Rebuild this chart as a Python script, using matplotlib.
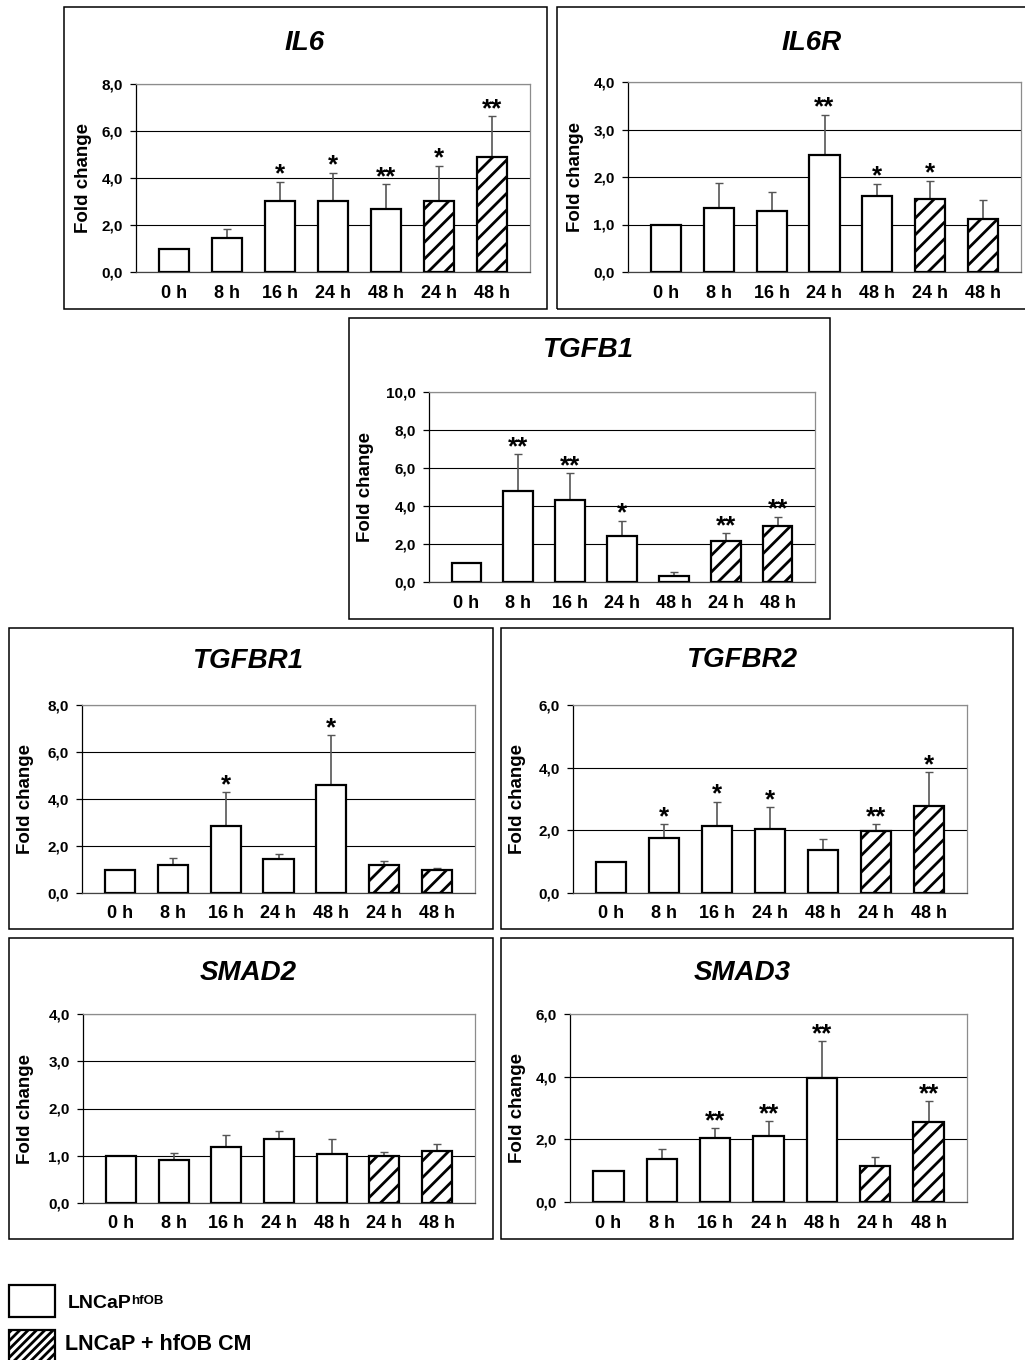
import matplotlib
matplotlib.use('Agg')
import matplotlib.pyplot as plt
from matplotlib.patches import Rectangle
import numpy as np

plt.rcParams['font.family'] = ['Liberation Sans', 'DejaVu Sans']
plt.rcParams['font.weight'] = 'bold'
plt.rcParams['hatch.linewidth'] = 2.0

# ---------------- data ----------------
categories = ['0 h', '8 h', '16 h', '24 h', '48 h', '24 h', '48 h']
hatched = [False, False, False, False, False, True, True]

il6_mean = [1.0, 1.43, 3.04, 3.04, 2.68, 3.04, 4.90]
il6_err = [0.0, 0.42, 0.81, 1.19, 1.06, 1.49, 1.72]
il6_sig = ['', '', '*', '*', '**', '*', '**']

il6r_mean = [1.0, 1.35, 1.28, 2.46, 1.59, 1.54, 1.11]
il6r_err = [0.0, 0.53, 0.41, 0.85, 0.27, 0.38, 0.41]
il6r_sig = ['', '', '', '**', '*', '*', '']

tgfb1_mean = [1.0, 4.81, 4.33, 2.40, 0.33, 2.14, 2.95]
tgfb1_err = [0.0, 1.93, 1.39, 0.83, 0.18, 0.44, 0.49]
tgfb1_sig = ['', '**', '**', '*', '', '**', '**']

tgfbr1_mean = [1.0, 1.21, 2.85, 1.44, 4.60, 1.18, 1.0]
tgfbr1_err = [0.0, 0.26, 1.43, 0.23, 2.12, 0.19, 0.08]
tgfbr1_sig = ['', '', '*', '', '*', '', '']

tgfbr2_mean = [1.0, 1.76, 2.14, 2.03, 1.36, 1.99, 2.79]
tgfbr2_err = [0.0, 0.43, 0.78, 0.70, 0.35, 0.20, 1.06]
tgfbr2_sig = ['', '*', '*', '*', '', '**', '*']

smad2_mean = [1.0, 0.92, 1.19, 1.36, 1.03, 1.00, 1.10]
smad2_err = [0.0, 0.14, 0.25, 0.17, 0.32, 0.07, 0.15]
smad2_sig = ['', '', '', '', '', '', '']

smad3_mean = [1.0, 1.37, 2.04, 2.11, 3.95, 1.15, 2.54]
smad3_err = [0.0, 0.31, 0.32, 0.46, 1.18, 0.29, 0.67]
smad3_sig = ['', '', '**', '**', '**', '', '**']

y_max = {'IL6': 8, 'IL6R': 4, 'TGFB1': 10, 'TGFBR1': 8, 'TGFBR2': 6, 'SMAD2': 4, 'SMAD3': 6}
y_step = {'IL6': 2, 'IL6R': 1, 'TGFB1': 2, 'TGFBR1': 2, 'TGFBR2': 2, 'SMAD2': 1, 'SMAD3': 2}

legend_labels = ['LNCaP', 'hfOB', 'LNCaP + hfOB CM']
ylabel_text = 'Fold change'

# ---------------- layout (pixels) ----------------
W, H = 1025, 1360
DPI = 100
fig = plt.figure(figsize=(W / DPI, H / DPI), dpi=DPI)
fig.patch.set_facecolor('white')


def fx(x):
    return x / W


def fy(y):
    return 1 - y / H


panels = [
    # name, mean, err, sig, frame(l,t,r,b), axes(l,t,r,b), title(x,y), ylabel x
    ('IL6', il6_mean, il6_err, il6_sig, (64, 7, 547, 309), (136, 84, 530, 272), (305, 43), 83),
    ('IL6R', il6r_mean, il6r_err, il6r_sig, (557, 7, 1040, 309), (628, 82, 1021, 272), (812, 43), 575),
    ('TGFB1', tgfb1_mean, tgfb1_err, tgfb1_sig, (349, 318, 830, 619), (429, 392, 815, 582), (588, 350), 366),
    ('TGFBR1', tgfbr1_mean, tgfbr1_err, tgfbr1_sig, (9, 628, 493, 929), (82, 705, 475, 893), (248, 661), 26),
    ('TGFBR2', tgfbr2_mean, tgfbr2_err, tgfbr2_sig, (501, 628, 1013, 929), (573, 705, 967, 893), (742, 660), 518),
    ('SMAD2', smad2_mean, smad2_err, smad2_sig, (9, 938, 493, 1239), (83, 1014, 475, 1203), (248, 973), 26),
    ('SMAD3', smad3_mean, smad3_err, smad3_sig, (501, 938, 1013, 1239), (570, 1014, 967, 1202), (742, 973), 518),
]

for name, mean, err, sig, frame, abox, tpos, ylx in panels:
    # outer frame
    fl, ft, fr, fb = frame
    fig.patches.append(Rectangle((fx(fl), fy(fb)), fx(fr - fl), (fb - ft) / H,
                                 transform=fig.transFigure, fill=False,
                                 edgecolor='black', linewidth=1.1, zorder=0))
    l, t, r, b = abox
    ax = fig.add_axes([fx(l), fy(b), (r - l) / W, (b - t) / H])
    x = np.arange(len(categories))
    ymax = y_max[name]
    step = y_step[name]
    yerr = [np.zeros(len(err)), np.array(err)]
    for i in range(len(categories)):
        ax.bar(x[i], mean[i], width=0.57, color='white', edgecolor='black',
               linewidth=1.6, hatch='//' if hatched[i] else None, zorder=3)
    ax.errorbar(x, mean, yerr=yerr, fmt='none', ecolor='#555555', elinewidth=1.2,
                capsize=3.2, capthick=1.0, zorder=2)
    for i, s in enumerate(sig):
        if s:
            ax.annotate(s, xy=(x[i], mean[i] + err[i]), xytext=(0, 0.0),
                        textcoords='offset points', ha='center', va='baseline',
                        fontsize=18.5, fontweight='bold')
    ax.set_xlim(-0.72, len(categories) - 1 + 0.72)
    ax.set_ylim(0, ymax)
    ticks = np.arange(0, ymax + step / 2, step)
    ax.set_yticks(ticks)
    ax.set_yticklabels([('%.1f' % v).replace('.', ',') for v in ticks],
                       fontsize=11, fontweight='bold')
    ax.set_xticks(x)
    ax.set_xticklabels(categories, fontsize=13, fontweight='bold')
    ax.tick_params(axis='x', length=0, pad=9)
    ax.tick_params(axis='y', length=4.5, width=0.9, pad=5, direction='out')
    ax.yaxis.grid(True, color='black', linewidth=0.8)
    ax.set_axisbelow(True)
    ax.spines['left'].set_color('black')
    ax.spines['left'].set_linewidth(0.9)
    ax.spines['bottom'].set_color('#444444')
    ax.spines['bottom'].set_linewidth(0.9)
    ax.spines['top'].set_color('#8c8c8c')
    ax.spines['right'].set_color('#8c8c8c')
    ax.spines['top'].set_linewidth(0.9)
    ax.spines['right'].set_linewidth(0.9)
    fig.text(fx(tpos[0]), fy(tpos[1]), name, ha='center', va='center',
             fontsize=20, fontweight='bold', style='italic')
    fig.text(fx(ylx), fy((t + b) / 2), ylabel_text, rotation=90, ha='center',
             va='center', fontsize=13.5, fontweight='bold')

# ---------------- legend ----------------
fig.patches.append(Rectangle((fx(9), fy(1317)), fx(46), 32 / H, transform=fig.transFigure,
                             facecolor='white', edgecolor='black', linewidth=1.6))
fig.patches.append(Rectangle((fx(9), fy(1366)), fx(46), 36 / H, transform=fig.transFigure,
                             facecolor='white', edgecolor='black', linewidth=1.6, hatch='////'))
t1 = fig.text(fx(68), fy(1303), legend_labels[0], ha='left', va='center',
              fontsize=14, fontweight='bold')
fig.canvas.draw()
bb = t1.get_window_extent()
fig.text((bb.x1 - 1) / W, (bb.y1 - 1) / H, legend_labels[1], ha='left', va='top',
         fontsize=9.5, fontweight='bold')
fig.text(fx(65), fy(1345), legend_labels[2], ha='left', va='center',
         fontsize=15.5, fontweight='bold')

fig.savefig('out.png', dpi=DPI)
